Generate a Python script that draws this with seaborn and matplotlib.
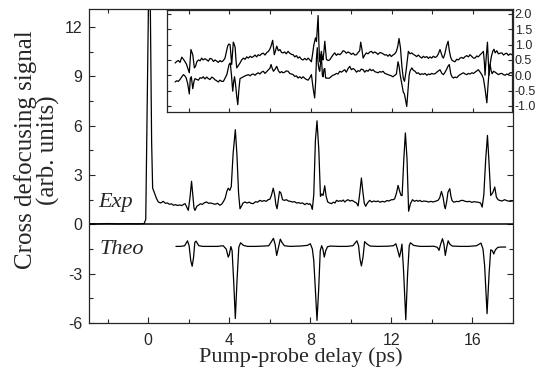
import numpy as np
import matplotlib
matplotlib.use("Agg")
import matplotlib.pyplot as plt
import seaborn as sns
from matplotlib.ticker import MultipleLocator

# experimental trace (main panel)
exp_delay = [-3.0, -2.5, -2.0, -1.5, -1.0, -0.5, -0.2, -0.12, -0.05, 0.02, 0.1, 0.17, 0.22, 0.3, 0.4,
             0.5, 0.62, 0.74, 0.85, 0.95, 1.05, 1.15, 1.25, 1.35, 1.45, 1.56, 1.66, 1.75, 1.82, 1.92,
             1.98, 2.06, 2.14, 2.2, 2.26, 2.31, 2.4, 2.47, 2.58, 2.68, 2.78, 2.88, 2.98, 3.08, 3.2,
             3.3, 3.42, 3.54, 3.64, 3.72, 3.8, 3.88, 3.95, 4.03, 4.1, 4.19, 4.3, 4.38, 4.46, 4.53,
             4.6, 4.68, 4.77, 4.88, 4.98, 5.08, 5.18, 5.3, 5.4, 5.51, 5.62, 5.72, 5.82, 5.92, 6.0,
             6.08, 6.17, 6.24, 6.3, 6.36, 6.42, 6.48, 6.55, 6.63, 6.72, 6.82, 6.92, 7.02, 7.12, 7.22,
             7.32, 7.42, 7.52, 7.62, 7.73, 7.82, 7.92, 7.98, 8.06, 8.1, 8.17, 8.25, 8.33, 8.42, 8.5,
             8.57, 8.63, 8.71, 8.78, 8.86, 8.95, 9.04, 9.14, 9.22, 9.29, 9.38, 9.46, 9.54, 9.62, 9.7,
             9.78, 9.86, 9.96, 10.06, 10.19, 10.28, 10.36, 10.44, 10.52, 10.6, 10.66, 10.73, 10.82, 10.93, 11.03,
             11.14, 11.24, 11.34, 11.44, 11.56, 11.67, 11.78, 11.88, 12.0, 12.08, 12.16, 12.25, 12.33, 12.41, 12.48,
             12.53, 12.61, 12.69, 12.77, 12.85, 12.94, 13.04, 13.14, 13.24, 13.32, 13.4, 13.5, 13.6, 13.73, 13.84,
             13.95, 14.05, 14.16, 14.3, 14.38, 14.47, 14.55, 14.62, 14.66, 14.73, 14.79, 14.88, 14.94, 14.99, 15.06,
             15.12, 15.22, 15.32, 15.42, 15.53, 15.64, 15.75, 15.86, 15.96, 16.08, 16.19, 16.3, 16.4, 16.48, 16.56,
             16.65, 16.74, 16.81, 16.9, 16.96, 17.01, 17.1, 17.18, 17.26, 17.34, 17.45, 17.59, 17.7, 17.84, 17.98]
exp_signal = [0.04, 0.03, 0.05, 0.03, 0.04, 0.03, 0.05, 0.3, 7.0, 14.0, 14.0, 5.0, 2.2, 1.95, 1.6,
              1.36, 1.3, 1.4, 1.28, 1.3, 1.22, 1.25, 1.16, 1.2, 1.15, 1.18, 1.14, 1.22, 1.26, 1.0,
              0.85, 1.6, 2.62, 1.8, 1.0, 0.85, 1.1, 1.16, 1.25, 1.22, 1.32, 1.36, 1.28, 1.3, 1.26,
              1.22, 1.28, 1.16, 1.25, 1.4, 1.6, 2.0, 2.2, 2.07, 2.3, 4.3, 5.76, 4.2, 1.9, 0.95,
              1.1, 1.3, 1.36, 1.3, 1.35, 1.28, 1.26, 1.38, 1.35, 1.46, 1.4, 1.45, 1.4, 1.5, 1.52,
              1.76, 2.2, 1.8, 1.2, 0.95, 1.5, 2.0, 1.9, 1.5, 1.46, 1.5, 1.42, 1.4, 1.36, 1.38,
              1.3, 1.32, 1.28, 1.3, 1.2, 1.28, 1.22, 1.26, 1.1, 0.92, 1.8, 5.1, 6.3, 4.5, 1.7,
              1.85, 1.76, 2.35, 1.7, 1.36, 1.3, 1.26, 1.35, 1.3, 1.46, 1.4, 1.44, 1.4, 1.48, 1.36,
              1.45, 1.5, 1.42, 1.46, 1.36, 1.3, 1.12, 1.9, 2.82, 1.9, 1.3, 1.1, 1.3, 1.46, 1.36,
              1.42, 1.38, 1.42, 1.35, 1.4, 1.36, 1.45, 1.42, 1.5, 1.5, 1.55, 1.9, 2.37, 2.0, 1.75,
              1.76, 3.9, 5.56, 4.0, 0.8, 1.26, 1.5, 1.4, 1.46, 1.4, 1.46, 1.38, 1.42, 1.4, 1.36,
              1.4, 1.36, 1.4, 1.46, 1.6, 2.0, 1.66, 1.1, 0.95, 1.4, 1.95, 2.17, 1.7, 1.46, 1.36,
              1.36, 1.4, 1.38, 1.45, 1.46, 1.4, 1.38, 1.4, 1.34, 1.38, 1.36, 1.34, 1.3, 1.05, 1.8,
              3.9, 5.41, 3.9, 1.76, 1.85, 1.95, 2.27, 1.66, 1.5, 1.46, 1.42, 1.5, 1.44, 1.4, 1.42]

# theoretical trace (main panel, lower)
theo_delay = [1.37, 1.6, 1.8, 1.94, 2.02, 2.1, 2.17, 2.24, 2.3, 2.36, 2.5, 2.7, 3.0, 3.4, 3.7,
              3.85, 3.95, 4.0, 4.08, 4.14, 4.22, 4.3, 4.38, 4.47, 4.56, 4.7, 4.9, 5.3, 5.7, 5.95,
              6.08, 6.18, 6.26, 6.34, 6.42, 6.52, 6.6, 6.72, 7.0, 7.5, 7.85, 8.0, 8.1, 8.17, 8.25,
              8.33, 8.41, 8.49, 8.56, 8.62, 8.69, 8.76, 8.85, 9.0, 9.4, 9.8, 10.1, 10.3, 10.38, 10.45,
              10.52, 10.6, 10.68, 10.8, 10.95, 11.3, 11.8, 12.1, 12.22, 12.32, 12.4, 12.47, 12.52, 12.6, 12.71,
              12.8, 12.88, 12.94, 13.1, 13.4, 13.8, 14.1, 14.27, 14.35, 14.43, 14.52, 14.59, 14.66, 14.73, 14.8,
              14.88, 15.0, 15.4, 15.8, 16.2, 16.42, 16.52, 16.6, 16.72, 16.82, 16.9, 16.98, 17.05, 17.13, 17.25,
              17.4, 17.64]
theo_signal = [-1.34, -1.34, -1.3, -1.0, -1.3, -2.2, -2.55, -2.0, -1.1, -1.02, -1.3, -1.34, -1.34, -1.34, -1.3,
               -1.5, -1.99, -1.85, -1.35, -1.6, -3.5, -5.73, -3.5, -1.4, -1.12, -1.28, -1.34, -1.34, -1.32, -1.3,
               -1.05, -0.85, -1.2, -1.89, -1.45, -0.9, -1.1, -1.3, -1.34, -1.32, -1.28, -1.18, -1.5, -2.2, -4.0,
               -5.84, -4.0, -1.6, -1.3, -1.5, -1.99, -1.6, -1.36, -1.32, -1.34, -1.34, -1.3, -1.0, -1.3, -2.1,
               -2.53, -2.0, -1.05, -1.2, -1.32, -1.34, -1.33, -1.3, -1.18, -1.6, -1.99, -1.6, -1.2, -2.8, -5.8,
               -3.0, -1.3, -1.12, -1.28, -1.34, -1.34, -1.33, -1.4, -1.58, -1.2, -0.87, -1.2, -1.89, -1.4, -1.0,
               -1.2, -1.32, -1.34, -1.34, -1.3, -1.14, -1.5, -2.5, -5.43, -3.0, -1.55, -1.6, -1.8, -1.55, -1.4,
               -1.38, -1.38]

# inset, upper trace
ins_up_delay = [1.32, 1.4, 1.48, 1.56, 1.65, 1.73, 1.81, 1.88, 1.94, 2.02, 2.1, 2.19, 2.27, 2.33, 2.39,
                2.47, 2.55, 2.63, 2.7, 2.79, 2.88, 2.96, 3.04, 3.13, 3.21, 3.29, 3.37, 3.45, 3.53, 3.62,
                3.7, 3.78, 3.86, 3.91, 3.97, 4.03, 4.08, 4.11, 4.15, 4.19, 4.24, 4.28, 4.32, 4.36, 4.44,
                4.52, 4.6, 4.69, 4.77, 4.85, 4.93, 5.02, 5.1, 5.18, 5.26, 5.34, 5.42, 5.5, 5.58, 5.67,
                5.75, 5.84, 5.92, 5.99, 6.05, 6.13, 6.21, 6.27, 6.33, 6.41, 6.49, 6.57, 6.64, 6.72, 6.8,
                6.89, 6.97, 7.06, 7.14, 7.22, 7.3, 7.38, 7.46, 7.55, 7.63, 7.71, 7.8, 7.88, 7.96, 8.04,
                8.1, 8.16, 8.24, 8.29, 8.33, 8.37, 8.41, 8.45, 8.49, 8.53, 8.57, 8.61, 8.66, 8.7, 8.74,
                8.78, 8.86, 8.94, 9.02, 9.1, 9.19, 9.27, 9.35, 9.44, 9.52, 9.6, 9.68, 9.76, 9.85, 9.93,
                10.01, 10.1, 10.18, 10.26, 10.34, 10.42, 10.47, 10.53, 10.59, 10.67, 10.75, 10.83, 10.92, 11.0, 11.08,
                11.16, 11.24, 11.32, 11.41, 11.49, 11.57, 11.66, 11.74, 11.82, 11.9, 11.98, 12.06, 12.15, 12.23, 12.3,
                12.36, 12.43, 12.5, 12.57, 12.63, 12.7, 12.77, 12.82, 12.9, 12.99, 13.07, 13.15, 13.23, 13.31, 13.4,
                13.48, 13.56, 13.64, 13.73, 13.81, 13.89, 13.97, 14.05, 14.14, 14.22, 14.3, 14.38, 14.44, 14.5, 14.55,
                14.62, 14.7, 14.78, 14.84, 14.9, 14.96, 15.04, 15.12, 15.2, 15.29, 15.37, 15.45, 15.53, 15.62, 15.7,
                15.78, 15.86, 15.94, 16.03, 16.11, 16.19, 16.27, 16.36, 16.44, 16.52, 16.57, 16.6, 16.66, 16.72, 16.76,
                16.8, 16.85, 16.91, 16.98, 17.04, 17.1, 17.18, 17.26, 17.34, 17.43, 17.51, 17.59, 17.67, 17.75, 17.84,
                17.92]
ins_up_signal = [0.4, 0.45, 0.48, 0.42, 0.59, 0.52, 0.44, 0.36, 0.24, 0.08, 0.84, 0.67, 0.24, 0.3, 0.44,
                 0.5, 0.47, 0.56, 0.5, 0.54, 0.5, 0.46, 0.55, 0.53, 0.45, 0.5, 0.46, 0.42, 0.48, 0.44,
                 0.48, 0.56, 0.8, 0.95, 1.02, 1.0, 0.6, 0.35, 0.7, 1.08, 1.0, 0.9, 0.5, 0.24, 0.32,
                 0.4, 0.5, 0.56, 0.52, 0.6, 0.56, 0.62, 0.58, 0.61, 0.66, 0.6, 0.67, 0.64, 0.7, 0.72,
                 0.66, 0.74, 0.78, 0.85, 0.95, 1.14, 0.67, 0.8, 0.95, 0.8, 0.84, 0.74, 0.73, 0.76, 0.7,
                 0.78, 0.72, 0.68, 0.67, 0.6, 0.64, 0.56, 0.6, 0.52, 0.5, 0.55, 0.5, 0.56, 0.5, 0.44,
                 0.7, 0.99, 1.22, 1.1, 1.5, 1.95, 1.0, 0.44, 0.6, 0.78, 0.6, 0.5, 0.8, 1.11, 0.8,
                 0.52, 0.48, 0.5, 0.58, 0.66, 0.73, 0.65, 0.7, 0.67, 0.72, 0.8, 0.78, 0.72, 0.76, 0.73,
                 0.68, 0.72, 0.66, 0.67, 0.74, 0.8, 1.08, 0.85, 0.56, 0.66, 0.73, 0.7, 0.76, 0.78, 0.72,
                 0.76, 0.73, 0.68, 0.74, 0.73, 0.7, 0.66, 0.67, 0.62, 0.68, 0.61, 0.66, 0.7, 0.78, 0.95,
                 1.2, 0.9, 0.3, -0.1, -0.2, 0.1, 0.5, 0.78, 0.7, 0.73, 0.68, 0.65, 0.61, 0.66, 0.6,
                 0.56, 0.62, 0.58, 0.61, 0.55, 0.6, 0.56, 0.62, 0.58, 0.61, 0.7, 0.84, 0.72, 0.6, 0.56,
                 0.7, 0.95, 1.11, 0.8, 0.6, 0.5, 0.46, 0.44, 0.52, 0.5, 0.56, 0.58, 0.55, 0.61, 0.64,
                 0.6, 0.67, 0.62, 0.56, 0.56, 0.63, 0.6, 0.67, 0.72, 0.78, 0.4, 0.0, 0.6, 1.08, 0.5,
                 0.0, 0.35, 0.6, 0.78, 0.85, 0.73, 0.8, 0.7, 0.72, 0.73, 0.66, 0.7, 0.72, 0.65, 0.7,
                 0.67]

# inset, lower trace
ins_lo_delay = [1.32, 1.4, 1.48, 1.56, 1.65, 1.73, 1.8, 1.86, 1.94, 2.02, 2.07, 2.12, 2.19, 2.25, 2.3,
                2.39, 2.47, 2.55, 2.63, 2.71, 2.79, 2.88, 2.96, 3.04, 3.13, 3.2, 3.29, 3.37, 3.45, 3.53,
                3.62, 3.7, 3.78, 3.87, 3.93, 3.98, 4.04, 4.1, 4.16, 4.21, 4.25, 4.3, 4.36, 4.41, 4.46,
                4.52, 4.6, 4.69, 4.77, 4.85, 4.93, 5.02, 5.1, 5.18, 5.26, 5.34, 5.42, 5.5, 5.58, 5.67,
                5.75, 5.84, 5.92, 5.99, 6.05, 6.11, 6.17, 6.25, 6.33, 6.41, 6.49, 6.57, 6.64, 6.72, 6.8,
                6.89, 6.97, 7.06, 7.14, 7.22, 7.3, 7.38, 7.46, 7.55, 7.63, 7.71, 7.8, 7.88, 7.96, 8.04,
                8.12, 8.2, 8.25, 8.29, 8.33, 8.37, 8.41, 8.45, 8.49, 8.53, 8.58, 8.62, 8.66, 8.7, 8.74,
                8.78, 8.86, 8.94, 9.02, 9.1, 9.19, 9.27, 9.35, 9.44, 9.52, 9.6, 9.68, 9.76, 9.85, 9.93,
                10.01, 10.1, 10.18, 10.26, 10.34, 10.42, 10.5, 10.59, 10.67, 10.75, 10.83, 10.92, 11.0, 11.08, 11.16,
                11.24, 11.33, 11.41, 11.49, 11.57, 11.66, 11.74, 11.82, 11.9, 11.98, 12.06, 12.15, 12.23, 12.31, 12.36,
                12.42, 12.5, 12.57, 12.62, 12.68, 12.74, 12.8, 12.86, 12.9, 12.99, 13.07, 13.15, 13.23, 13.31, 13.4,
                13.48, 13.56, 13.64, 13.73, 13.81, 13.89, 13.97, 14.05, 14.14, 14.22, 14.3, 14.38, 14.47, 14.55, 14.63,
                14.71, 14.78, 14.84, 14.91, 14.97, 15.04, 15.12, 15.21, 15.29, 15.37, 15.45, 15.53, 15.62, 15.7, 15.78,
                15.86, 15.95, 16.03, 16.11, 16.19, 16.27, 16.36, 16.44, 16.52, 16.6, 16.69, 16.75, 16.8, 16.85, 16.9,
                16.95, 17.02, 17.1, 17.18, 17.26, 17.34, 17.43, 17.51, 17.59, 17.67, 17.75, 17.84, 17.92]
ins_lo_signal = [-0.22, -0.18, -0.2, -0.14, -0.05, 0.02, -0.02, -0.08, -0.27, -0.61, -0.1, -0.05, -0.44, -0.2, -0.11,
                 -0.14, -0.16, -0.08, -0.1, -0.05, -0.12, -0.06, -0.11, -0.14, -0.06, -0.09, -0.15, -0.18, -0.22, -0.16,
                 -0.2, -0.2, -0.1, 0.02, 0.2, 0.35, 0.4, 0.0, -0.52, -0.2, -0.05, -0.3, -0.7, -0.96, -0.5,
                 -0.11, -0.08, -0.05, -0.02, 0.0, 0.02, -0.02, 0.03, 0.04, 0.0, 0.05, 0.08, 0.04, 0.1, 0.13,
                 0.06, 0.12, 0.18, 0.22, 0.35, 0.22, 0.13, 0.2, 0.29, 0.15, 0.08, 0.12, 0.08, 0.1, 0.14,
                 0.13, 0.06, 0.04, 0.02, -0.04, -0.02, -0.09, -0.05, -0.1, -0.05, -0.1, -0.14, -0.16, -0.08, 0.02,
                 -0.4, -0.74, -0.2, 0.56, 0.9, 0.4, 0.2, 0.13, 0.4, 0.67, 0.0, -0.05, 0.2, 0.22, -0.09,
                 -0.09, -0.1, -0.09, -0.04, 0.0, 0.02, 0.06, 0.04, 0.13, 0.1, 0.14, 0.18, 0.1, 0.22, 0.29,
                 0.18, 0.22, 0.18, 0.1, 0.15, 0.13, 0.2, 0.18, 0.1, 0.16, 0.13, 0.2, 0.15, 0.18, 0.12,
                 0.1, 0.08, 0.12, 0.1, 0.13, 0.06, 0.04, 0.02, 0.0, -0.02, -0.05, 0.0, 0.04, 0.44, 0.3,
                 0.0, -0.3, -0.55, -0.6, -0.8, -1.02, -0.5, 0.0, 0.13, 0.24, 0.16, 0.13, 0.06, 0.08, 0.02,
                 0.05, 0.03, 0.06, 0.0, 0.04, 0.02, 0.06, 0.04, 0.05, 0.1, 0.14, 0.18, 0.06, 0.02, 0.1,
                 0.2, 0.3, 0.35, 0.05, -0.05, -0.09, -0.06, -0.08, -0.02, 0.02, 0.05, 0.08, 0.04, 0.02, 0.06,
                 0.04, 0.08, 0.06, 0.1, 0.14, 0.18, 0.1, 0.02, -0.1, -0.44, -0.9, -0.3, 0.1, 0.35, 0.15,
                 0.05, 0.13, 0.1, 0.06, 0.02, 0.05, 0.06, 0.02, 0.0, 0.04, 0.02, 0.08, 0.08]

main_xticks = [0, 4, 8, 12, 16]
main_yticks = [-6, -3, 0, 3, 6, 9, 12]
inset_yticks = [-1.0, -0.5, 0.0, 0.5, 1.0, 1.5, 2.0]

sns.set_style("ticks")
plt.rcParams["font.family"] = ["Liberation Sans", "DejaVu Sans"]
plt.rcParams["axes.unicode_minus"] = False
plt.rcParams["axes.linewidth"] = 0.9
serif = ["Liberation Serif", "DejaVu Serif"]

fig = plt.figure(figsize=(5.46, 3.68), dpi=100)
ax = fig.add_axes([89 / 546, 1 - 323 / 368, (513 - 89) / 546, (323 - 9) / 368])

sns.lineplot(x=exp_delay, y=exp_signal, ax=ax, color="black", lw=0.9,
             estimator=None, sort=False)
sns.lineplot(x=theo_delay, y=theo_signal, ax=ax, color="black", lw=0.9,
             estimator=None, sort=False)
ax.axhline(0, color="black", lw=1.1)

ax.set_xlim(-2.92, 18)
ax.set_ylim(-6, 13.1)
ax.set_xticks(main_xticks)
ax.set_yticks(main_yticks)
ax.xaxis.set_minor_locator(MultipleLocator(2))
ax.yaxis.set_minor_locator(MultipleLocator(1.5))
ax.tick_params(which="both", direction="in", top=True, right=True, width=0.8,
               labelsize=11.5)
ax.tick_params(which="major", length=4.5)
ax.tick_params(which="minor", length=3)
ax.tick_params(axis="x", pad=7)
ax.tick_params(axis="y", pad=5)
for s in ax.spines.values():
    s.set_visible(True)

ax.set_xlabel("Pump-probe delay (ps)", family=serif, fontsize=16, labelpad=-0.5)
fig.text(37 / 546, 1 - 150 / 368, "Cross defocusing signal\n(arb. units)",
         family=serif, fontsize=18, rotation=90, ha="center", va="center",
         multialignment="center", linespacing=1.0)

ax.text(-2.48, 1.05, "Exp", family=serif, style="italic", fontsize=16, va="baseline")
ax.text(-2.4, -1.82, "Theo", family=serif, style="italic", fontsize=16, va="baseline")

# inset
ins = fig.add_axes([167 / 546, 1 - 112 / 368, (512 - 167) / 546, (112 - 10) / 368])
sns.lineplot(x=ins_up_delay, y=ins_up_signal, ax=ins, color="black", lw=0.9,
             estimator=None, sort=False)
sns.lineplot(x=ins_lo_delay, y=ins_lo_signal, ax=ins, color="black", lw=0.9,
             estimator=None, sort=False)
ins.set_xlim(0.92, 17.93)
ins.set_ylim(-1.2, 2.13)
ins.set_xticks(np.arange(2, 17, 2))
ins.set_yticks(inset_yticks)
ins.set_yticklabels([f"{v:.1f}" for v in inset_yticks])
ins.tick_params(which="both", direction="in", top=True, right=True, left=True,
                labelbottom=False, labelleft=False, labelright=True,
                length=3, width=0.8, labelsize=9, pad=2)
for s in ins.spines.values():
    s.set_visible(True)
    s.set_linewidth(0.9)

fig.savefig("out.png", dpi=100)
